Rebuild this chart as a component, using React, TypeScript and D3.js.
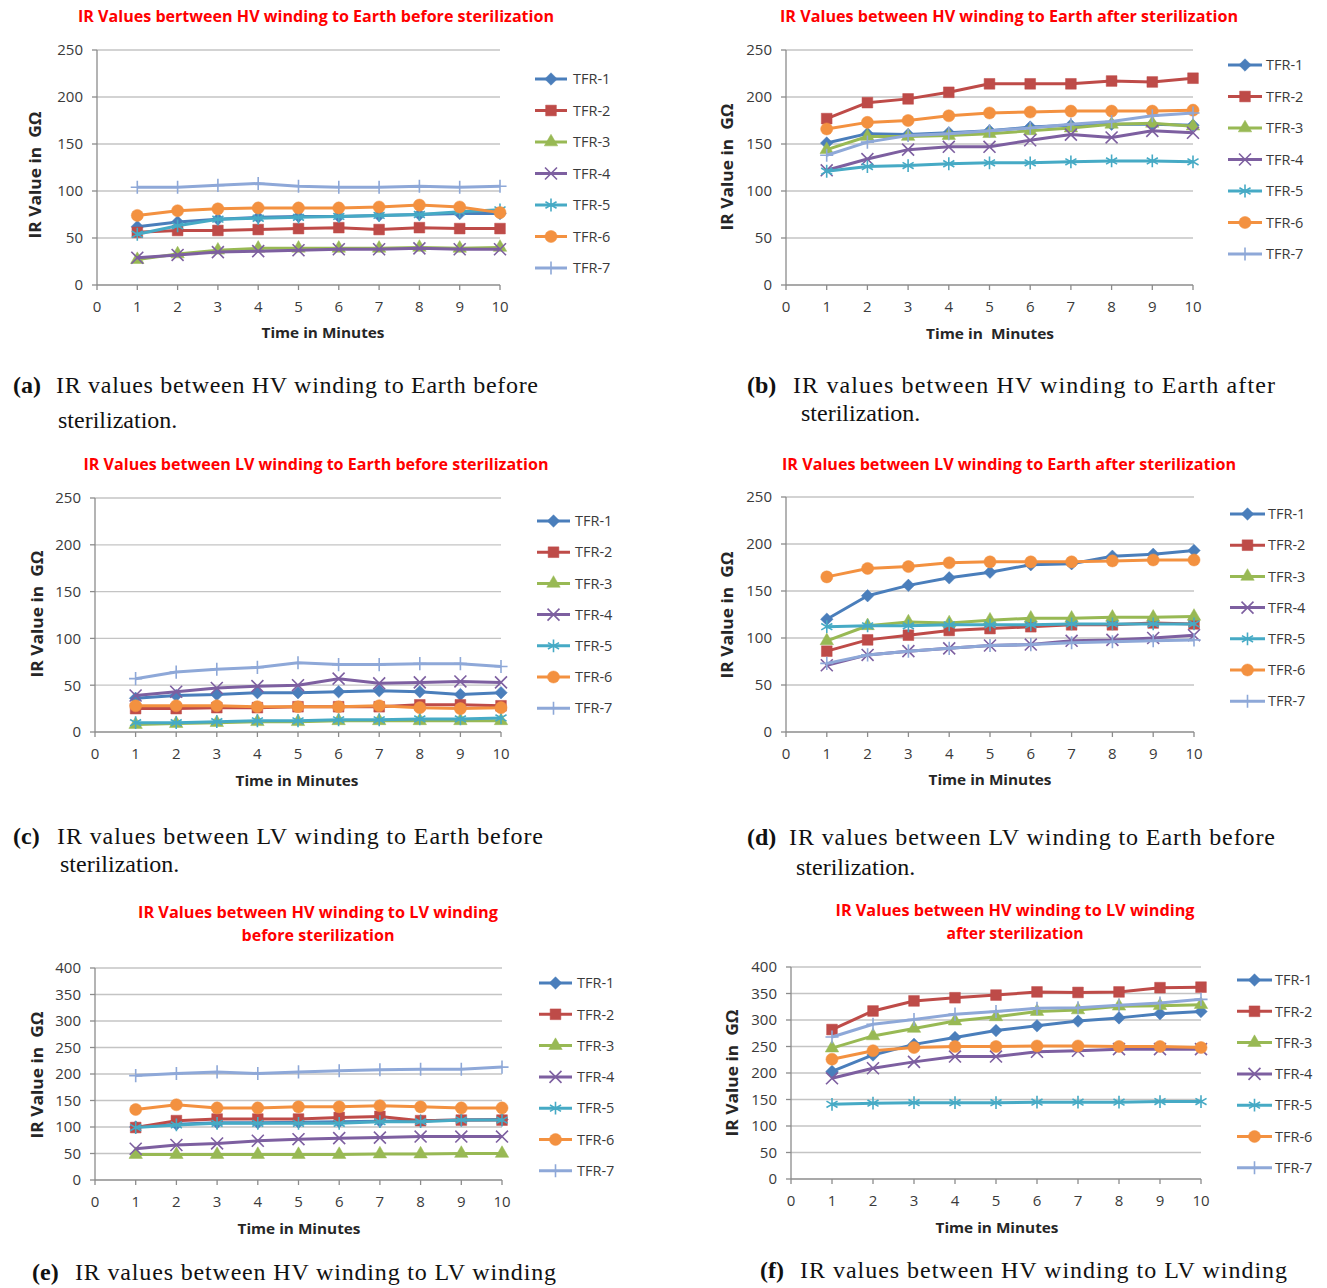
import React from 'react';
import * as d3 from 'd3';

// series names and x values shared by all six charts
const seriesNames = ['TFR-1', 'TFR-2', 'TFR-3', 'TFR-4', 'TFR-5', 'TFR-6', 'TFR-7'];
const minutes = [1, 2, 3, 4, 5, 6, 7, 8, 9, 10];
const xTicks = [0, 1, 2, 3, 4, 5, 6, 7, 8, 9, 10];
const yTicks250 = [0, 50, 100, 150, 200, 250];
const yTicks400 = [0, 50, 100, 150, 200, 250, 300, 350, 400];

// (a) HV winding to earth, before
const hvEarthBefore = [
  [62, 67, 70, 72, 73, 73, 74, 75, 76, 76],
  [56, 58, 58, 59, 60, 61, 59, 61, 60, 60],
  [27, 33, 37, 39, 39, 39, 39, 40, 39, 40],
  [29, 32, 35, 36, 37, 38, 38, 39, 38, 38],
  [54, 63, 70, 71, 72, 73, 74, 75, 78, 80],
  [74, 79, 81, 82, 82, 82, 83, 85, 83, 77],
  [104, 104, 106, 108, 105, 104, 104, 105, 104, 105],
];

// (b) HV winding to earth, after
const hvEarthAfter = [
  [151, 161, 160, 162, 164, 168, 170, 171, 171, 170],
  [177, 194, 198, 205, 214, 214, 214, 217, 216, 220],
  [144, 158, 158, 159, 161, 164, 167, 171, 172, 169],
  [122, 134, 144, 147, 147, 154, 160, 157, 164, 162],
  [121, 126, 127, 129, 130, 130, 131, 132, 132, 131],
  [166, 173, 175, 180, 183, 184, 185, 185, 185, 186],
  [138, 152, 159, 161, 164, 167, 171, 174, 180, 183],
];

// (c) LV winding to earth, before
const lvEarthBefore = [
  [36, 39, 40, 42, 42, 43, 44, 43, 40, 42],
  [25, 25, 26, 26, 27, 27, 27, 29, 29, 28],
  [8, 9, 10, 11, 11, 12, 12, 12, 12, 12],
  [39, 43, 47, 49, 50, 57, 52, 53, 54, 53],
  [10, 10, 11, 12, 12, 13, 13, 14, 14, 15],
  [28, 28, 28, 27, 27, 27, 28, 26, 25, 26],
  [57, 64, 67, 69, 74, 72, 72, 73, 73, 70],
];

// (d) LV winding to earth, after
const lvEarthAfter = [
  [120, 145, 156, 164, 170, 178, 179, 187, 189, 193],
  [86, 98, 103, 108, 110, 112, 114, 114, 116, 115],
  [97, 113, 117, 116, 119, 121, 121, 122, 122, 123],
  [71, 82, 86, 89, 92, 93, 97, 98, 100, 103],
  [112, 113, 113, 114, 114, 114, 115, 115, 115, 115],
  [165, 174, 176, 180, 181, 181, 181, 182, 183, 183],
  [73, 82, 86, 89, 92, 93, 95, 96, 97, 98],
];

// (e) HV winding to LV winding, before
const hvLvBefore = [
  [100, 105, 108, 108, 109, 110, 111, 112, 113, 114],
  [99, 112, 115, 115, 115, 118, 120, 112, 113, 113],
  [48, 48, 48, 48, 48, 48, 49, 49, 50, 50],
  [59, 66, 69, 74, 77, 79, 80, 82, 82, 82],
  [99, 104, 107, 107, 107, 107, 110, 110, 113, 113],
  [133, 142, 136, 136, 138, 138, 140, 138, 136, 136],
  [197, 201, 204, 201, 204, 206, 208, 209, 209, 213],
];

// (f) HV winding to LV winding, after
const hvLvAfter = [
  [203, 234, 254, 267, 280, 289, 298, 304, 312, 316],
  [282, 317, 336, 342, 347, 353, 352, 353, 361, 362],
  [247, 270, 284, 298, 306, 316, 319, 326, 327, 329],
  [190, 209, 221, 231, 231, 240, 242, 245, 245, 245],
  [141, 143, 144, 144, 144, 145, 145, 145, 146, 146],
  [226, 242, 248, 250, 250, 251, 251, 250, 250, 248],
  [268, 292, 301, 311, 316, 322, 323, 328, 332, 339],
];

const colors = ['#4A7EBB', '#BE4B48', '#98B954', '#7D5FA0', '#46AAC5', '#F39140', '#8EA8D8'];
const markerTypes = [d3.symbolDiamond2, d3.symbolSquare, d3.symbolTriangle, d3.symbolTimes, d3.symbolAsterisk, d3.symbolCircle, d3.symbolPlus];
const markerSizes = [100, 115, 78, 95, 115, 115, 58];
const markerFilled = [true, true, true, false, false, true, false];

const chartFont = '"Open Sans", "Liberation Sans", sans-serif';
const serifFont = '"Liberation Serif", "Times New Roman", serif';

const panels = [
  {
    data: hvEarthBefore, yTicks: yTicks250, yMax: 250,
    x0: 97, x10: 500, y0: 285, yTop: 50,
    title: [{ text: 'IR Values bertween HV winding to Earth before sterilization', cx: 316, cy: 17, w: 476 }],
    yTitle: { cx: 35, cy: 175 }, xTitle: { text: 'Time in Minutes', cx: 323, cy: 333 },
    legend: { x1: 535, x2: 567, tx: 573, y: 79, dy: 31.5 },
    tag: '(a)', tagX: 13,
    cap: [{ text: 'IR values between HV winding to Earth before', x: 56, w: 482, y: 393 }, { text: 'sterilization.', x: 58, y: 428 }],
  },
  {
    data: hvEarthAfter, yTicks: yTicks250, yMax: 250,
    x0: 786, x10: 1193, y0: 285, yTop: 50,
    title: [{ text: 'IR Values between HV winding to Earth after sterilization', cx: 1009, cy: 17, w: 458 }],
    yTitle: { cx: 727, cy: 167 }, xTitle: { text: 'Time in  Minutes', cx: 990, cy: 334 },
    legend: { x1: 1228, x2: 1262, tx: 1266, y: 65, dy: 31.5 },
    tag: '(b)', tagX: 747,
    cap: [{ text: 'IR values between HV winding to Earth after', x: 793, w: 482, y: 393 }, { text: 'sterilization.', x: 801, y: 421 }],
  },
  {
    data: lvEarthBefore, yTicks: yTicks250, yMax: 250,
    x0: 95, x10: 501, y0: 732, yTop: 498,
    title: [{ text: 'IR Values between LV winding to Earth before sterilization', cx: 316, cy: 465, w: 465 }],
    yTitle: { cx: 37, cy: 614 }, xTitle: { text: 'Time in Minutes', cx: 297, cy: 781 },
    legend: { x1: 537, x2: 570, tx: 575, y: 521, dy: 31.2 },
    tag: '(c)', tagX: 13,
    cap: [{ text: 'IR values between LV winding to Earth before', x: 57, w: 486, y: 844 }, { text: 'sterilization.', x: 60, y: 872 }],
  },
  {
    data: lvEarthAfter, yTicks: yTicks250, yMax: 250,
    x0: 786, x10: 1194, y0: 732, yTop: 497,
    title: [{ text: 'IR Values between LV winding to Earth after sterilization', cx: 1009, cy: 465, w: 454 }],
    yTitle: { cx: 727, cy: 615 }, xTitle: { text: 'Time in Minutes', cx: 990, cy: 780 },
    legend: { x1: 1230, x2: 1265, tx: 1268, y: 514, dy: 31.2 },
    tag: '(d)', tagX: 747,
    cap: [{ text: 'IR values between LV winding to Earth before', x: 789, w: 486, y: 845 }, { text: 'sterilization.', x: 796, y: 875 }],
  },
  {
    data: hvLvBefore, yTicks: yTicks400, yMax: 400,
    x0: 95, x10: 502, y0: 1180, yTop: 968,
    title: [
      { text: 'IR Values between HV winding to LV winding', cx: 318, cy: 913, w: 360 },
      { text: 'before sterilization', cx: 318, cy: 936, w: 153 },
    ],
    yTitle: { cx: 37, cy: 1075 }, xTitle: { text: 'Time in Minutes', cx: 299, cy: 1229 },
    legend: { x1: 539, x2: 572, tx: 577, y: 983, dy: 31.3 },
    tag: '(e)', tagX: 32,
    cap: [{ text: 'IR values between HV winding to LV winding', x: 75, w: 481, y: 1280 }],
  },
  {
    data: hvLvAfter, yTicks: yTicks400, yMax: 400,
    x0: 791, x10: 1201, y0: 1179, yTop: 967,
    title: [
      { text: 'IR Values between HV winding to LV winding', cx: 1015, cy: 911, w: 359 },
      { text: 'after sterilization', cx: 1015, cy: 934, w: 137 },
    ],
    yTitle: { cx: 732, cy: 1073 }, xTitle: { text: 'Time in Minutes', cx: 997, cy: 1228 },
    legend: { x1: 1237, x2: 1272, tx: 1275, y: 980, dy: 31.3 },
    tag: '(f)', tagX: 760,
    cap: [{ text: 'IR values between HV winding to LV winding', x: 800, w: 487, y: 1278 }],
  },
];

function Marker({ i, x, y }: { i: number; x: number; y: number }) {
  const d = d3.symbol(markerTypes[i], markerSizes[i])() || '';
  const filled = markerFilled[i];
  return (
    <path
      d={d}
      transform={`translate(${x},${y})`}
      fill={filled ? colors[i] : 'none'}
      stroke={colors[i]}
      strokeWidth={filled ? 0.5 : 1.6}
    />
  );
}

function Panel({ p }: { p: any }) {
  const x = d3.scaleLinear().domain([0, 10]).range([p.x0, p.x10]);
  const y = d3.scaleLinear().domain([0, p.yMax]).range([p.y0, p.yTop]);
  const line = d3.line<number>()
    .x((_, i) => x(minutes[i]))
    .y(d => y(d));

  return (
    <g>
      {p.title.map((t: any, k: number) => (
        <text key={k} x={t.cx} y={t.cy + 5} textAnchor="middle" fill="#FF0000" fontWeight="bold"
          fontSize={15.5} fontFamily={chartFont} textLength={t.w} lengthAdjust="spacingAndGlyphs">{t.text}</text>
      ))}

      {/* gridlines */}
      {p.yTicks.filter((t: number) => t > 0).map((t: number) => (
        <line key={t} x1={x(0)} x2={x(10)} y1={y(t)} y2={y(t)} stroke="#C4C4C4" strokeWidth={1.3} />
      ))}
      {/* axes */}
      <line x1={x(0)} x2={x(0)} y1={y(0)} y2={y(p.yMax)} stroke="#8C8C8C" strokeWidth={1.3} />
      <line x1={x(0)} x2={x(10)} y1={y(0)} y2={y(0)} stroke="#8C8C8C" strokeWidth={1.3} />
      {p.yTicks.map((t: number) => (
        <g key={t}>
          <line x1={x(0) - 5} x2={x(0)} y1={y(t)} y2={y(t)} stroke="#8C8C8C" strokeWidth={1.3} />
          <text x={x(0) - 14} y={y(t)} dy="0.36em" textAnchor="end" fontSize={15} fill="#3A3A3A" fontFamily={chartFont}>{t}</text>
        </g>
      ))}
      {xTicks.map(t => (
        <g key={t}>
          <line x1={x(t)} x2={x(t)} y1={y(0)} y2={y(0) + 5} stroke="#8C8C8C" strokeWidth={1.3} />
          <text x={x(t)} y={y(0) + 27} textAnchor="middle" fontSize={15} fill="#3A3A3A" fontFamily={chartFont}>{t}</text>
        </g>
      ))}

      {/* series */}
      {p.data.map((s: number[], i: number) => (
        <g key={i}>
          <path d={line(s) || ''} fill="none" stroke={colors[i]} strokeWidth={3} strokeLinejoin="round" />
          {s.map((v, j) => <Marker key={j} i={i} x={x(minutes[j])} y={y(v)} />)}
        </g>
      ))}

      {/* legend */}
      {seriesNames.map((n, i) => {
        const ly = p.legend.y + i * p.legend.dy;
        return (
          <g key={n}>
            <line x1={p.legend.x1} x2={p.legend.x2} y1={ly} y2={ly} stroke={colors[i]} strokeWidth={3} />
            <Marker i={i} x={(p.legend.x1 + p.legend.x2) / 2} y={ly} />
            <text x={p.legend.tx} y={ly} dy="0.36em" fontSize={14.5} fill="#3A3A3A" fontFamily={chartFont}>{n}</text>
          </g>
        );
      })}

      {/* axis titles */}
      <text transform={`translate(${p.yTitle.cx},${p.yTitle.cy}) rotate(-90)`} dy="0.36em" textAnchor="middle"
        fontSize={15.5} fontWeight="bold" fill="#262626" fontFamily={chartFont} style={{ whiteSpace: 'pre' }}
        textLength={127} lengthAdjust="spacingAndGlyphs">IR Value in  GΩ</text>
      <text x={p.xTitle.cx} y={p.xTitle.cy} dy="0.36em" textAnchor="middle"
        fontSize={15} fontWeight="bold" fill="#262626" fontFamily={chartFont} style={{ whiteSpace: 'pre' }}
        textLength={p.xTitle.text.length > 15 ? 128 : 123} lengthAdjust="spacingAndGlyphs">{p.xTitle.text}</text>

      {/* caption */}
      <text x={p.tagX} y={p.cap[0].y} fontSize={24} fontWeight="bold" fill="#111" fontFamily={serifFont}>{p.tag}</text>
      {p.cap.map((c: any, k: number) => (
        <text key={k} x={c.x} y={c.y} fontSize={24} fill="#111" fontFamily={serifFont}
          textLength={c.w} lengthAdjust={c.w ? 'spacing' : undefined}>{c.text}</text>
      ))}
    </g>
  );
}

export default function App() {
  return (
    <svg width={1327} height={1288} style={{ position: 'absolute', left: 0, top: 0, background: '#fff' }}>
      <rect width={1327} height={1288} fill="#fff" />
      {panels.map((p, k) => <Panel key={k} p={p} />)}
    </svg>
  );
}
